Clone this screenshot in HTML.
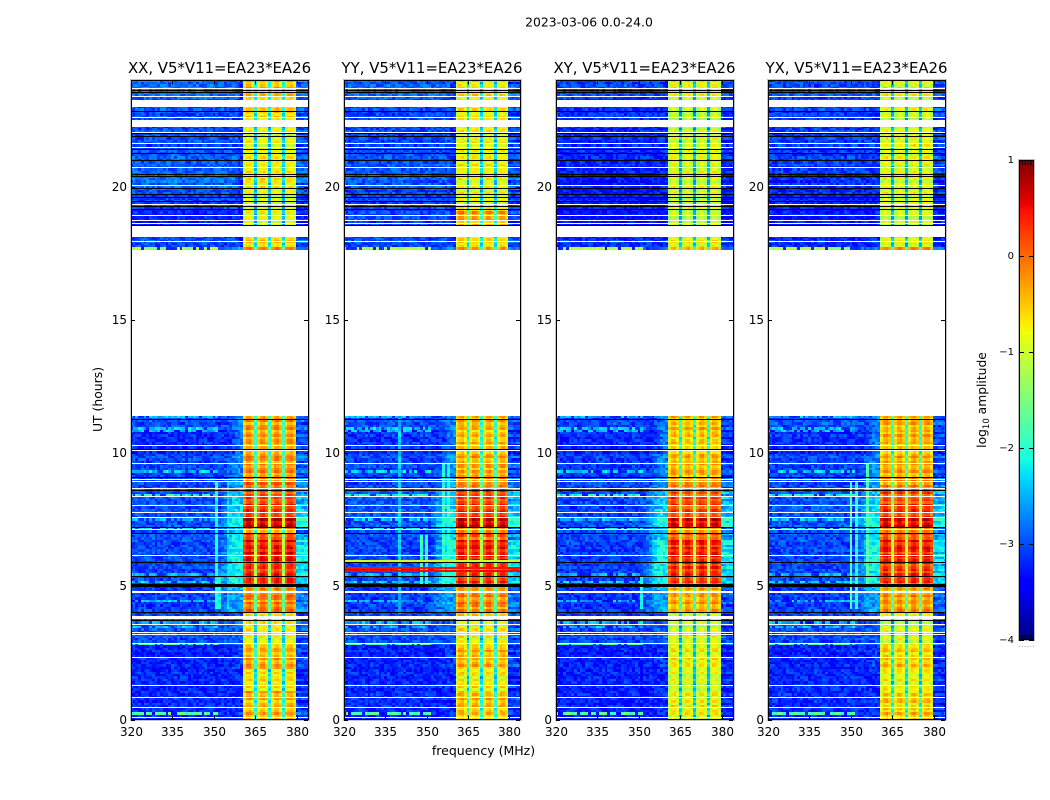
<!DOCTYPE html>
<html lang="en">
<head>
<meta charset="utf-8">
<title>2023-03-06 amplitude waterfall</title>
<style>
html,body{margin:0;padding:0;background:#fff;}
svg{display:block;}
text{font-family:"DejaVu Sans","Liberation Sans",sans-serif;fill:#000;}
</style>
</head>
<body>
<svg id="chart" xmlns="http://www.w3.org/2000/svg" width="1050" height="800" viewBox="0 0 1050 800">
<rect x="0" y="0" width="1050" height="800" fill="#fff"/>
<text x="589" y="26.5" font-size="12.4" text-anchor="middle">2023-03-06 0.0-24.0</text>
<text x="483.5" y="755" font-size="12.5" text-anchor="middle">frequency (MHz)</text>
<text x="0" y="0" font-size="12.4" text-anchor="middle" transform="translate(102,399.5) rotate(-90)">UT (hours)</text>
<text x="0" y="0" font-size="12.3" text-anchor="middle" transform="translate(986,400) rotate(-90)">log<tspan font-size="8.5" dy="3">10</tspan><tspan dy="-3"> amplitude</tspan></text>
<g id="panels"></g>
<g id="colorbar"></g>
</svg>
<script>
/* ---- chart data ---- */
const panelTitles = ["XX, V5*V11=EA23*EA26","YY, V5*V11=EA23*EA26","XY, V5*V11=EA23*EA26","YX, V5*V11=EA23*EA26"];
const xTickLabels = [320,335,350,365,380];
const yTickLabels = [0,5,10,15,20];
const colorbarTicks = [1,0,-1,-2,-3,-4];

const segmentStartUT = [0,1.1,1.85,2.8,3.75,4.05,4.85,5.05,5.87,6.73,7.0,7.2,7.6,8.1,8.6,9.05,10,10.85,17.7,18.56,19.2,19.9,20.5,21.3,22.3,23.3];
const bandXX = [-.4,-.65,-.35,-.8,-.5,-.05,-.3,.35,.5,.15,-.1,.7,.35,.2,-.05,-.2,-.3,-.2,-.6,-.85,-.9,-.7,-.8,-.8,-.55,-.45];
const bandYY = [-.45,-.7,-.4,-.8,-.5,-.15,-.3,.3,.45,.15,-.1,.65,.35,.2,-.1,-.3,-.45,-.4,-.65,-.35,-.8,-.85,-.8,-.8,-.75,-.7];
const bandXY = [-.75,-.9,-.7,-.9,-.65,-.3,-.4,.3,.45,.1,-.15,.6,.3,.15,-.15,-.35,-.5,-.45,-.8,-.95,-.95,-.95,-.9,-.9,-1,-.8];
const bandYX = [-.5,-.75,-.5,-.85,-.6,-.2,-.3,.3,.45,.15,-.1,.65,.35,.2,-.1,-.3,-.4,-.35,-.8,-.9,-.9,-.9,-.85,-.85,-.95,-.8];
const backgroundXX = [-3.2,-3.2,-3.25,-3,-3.05,-3.1,-3.2,-3.05,-3.05,-3,-3,-3,-3,-3,-3.05,-3.05,-3.2,-3,-3.05,-3.25,-3.05,-2.85,-2.95,-3,-3,-2.85];
const backgroundYY = [-3.2,-3.2,-3.25,-3,-3.05,-3.1,-3.2,-3.05,-3.05,-3,-3,-3,-2.95,-2.95,-3.05,-3.05,-3.15,-3,-3.05,-3.05,-3.05,-2.95,-3,-3.05,-3.05,-2.9];
const backgroundXY = [-3.25,-3.25,-3.25,-3.05,-3.1,-3.15,-3.2,-3.1,-3.1,-3.05,-3,-3.05,-3.05,-3.05,-3.05,-3.1,-3.2,-3.05,-3.2,-3.35,-3.3,-3.3,-3.25,-3.2,-3.15,-3.05];
const backgroundYX = [-3.2,-3.2,-3.25,-3,-3.05,-3.1,-3.2,-3.05,-3.05,-3,-3,-3,-2.95,-3,-3.05,-3.05,-3.2,-3,-3.2,-3.3,-3.25,-3.2,-3.1,-3.1,-3.1,-3];
const rampLevel = [-3.2,-3.2,-3.1,-2.9,-3,-2.6,-2.5,-2.2,-2.1,-2.3,-2.4,-2.1,-2.3,-2.4,-2.6,-2.7,-2.8,-2.7,-3.2,-3.2,-3.2,-3.2,-3.2,-3.2,-3.2,-3.2];
const rampStartMHz = [355,355,355,355,355,350,350,350,352,352,352,351,352,352,354,354,356,356,358,358,358,358,358,358,358,358];

/* level offset for the channels from 360.5 MHz up to the end of the 380 MHz band */
const bandChannelOffset = [-.3,.05,.08,-.2,-1.6,-.3,.03,.05,-.2,-1.6,-.3,.03,.05,-.2,-1.6,-.25,.03,.03,-.25];

const streakUT = [.2,2.83,3.47,3.66,4.48,10.8,10.9,9.28,8.38,7.5,7.17,5.42,5.16,17.7,11.38];
const streakLevel = [-1.9,-1.9,-2.6,-2.6,-2.6,-2.6,-2.5,-2.5,-2.2,-2.6,-2.2,-2.6,-2.5,-1.3,-2.6];
const yyLineUT = [5.73,5.61,5.98];
const yyLineLevel = [.45,.5,-1];

const spurPanel = [0,0,0,1,1,1,1,1,2,3,3,3];
const spurMHz = [351,352.5,355,340,348.5,350,356,358,351.5,350,352,356];
const spurFromUT = [4.1,4.1,4.1,4,5,5,5,5,4.1,4.1,4.1,5];
const spurToUT = [8.9,5.4,8.9,11.3,6.9,6.9,9.6,9.6,5.4,8.9,8.9,9.6];
const spurLevel = [-2.1,-2.1,-2.3,-2.4,-2,-2,-2,-2,-2.2,-1.7,-2,-1.8];

const blankStartUT = [11.39,18.14,22.27,23.0,4.75,3.77];
const blankEndUT = [17.65,18.52,22.5,23.28,4.82,3.88];
const whiteLineUT = [23.72,23.42,22.62,22.52,22.06,21.64,21.52,20.74,20.06,19.37,18.93,18.77,18.64,17.97,10.3,10.11,9.65,9.05,8.95,8.68,8.39,8.07,7.8,7.6,7.17,6.17,3.57,3.29,3.21,2.86,2.36,1.28,.83,.47,.08];
const blackLineUT = [23.65,23.56,22.85,22.02,21.9,21.43,21.27,21.02,20.47,20.4,19.97,19.72,19.62,19.47,19.27,19.18,18.56,11.28,10.17,9.11,8.61,7.23,7.01,5.9,5.38,4.05,3.75];
const blackBandStartUT = [4.97];
const blackBandEndUT = [5.1];

/* hand-typed speckle tables; a cosmetic texture, not per-cell readings */
const cellTexture = [.4,-.7,.1,.9,-.3,-.9,.6,.2,-.5,.8,-.1,-.6,.3,1,-.8,.5,-.2,.7,-.4,.1,-1,.6,.3,-.6,.9,-.2,.2,-.8,.5,-.4,.7,.1,-.9,.4,-.1,.8,-.5,.3,-.7,.6,0,-.3,1,-.6,.2,-.9,.5,.4,-.2,.7,-.7,.1,-.4];
const rowTexture = [.3,-.5,.8,-.2,-.7,.5,.1,-.9,.6,.2,-.3,.9,-.6,.4,-.1,-.8,.7,.2,-.4,.5,-1,.3,.6,-.2,-.6,.8,0,-.5,.4];

/* ---- layout ---- */
const panelLefts = [131,344,556,768];
const panelRights = [308,520,733,945];
const panelTop = 80.5;
const panelBottom = 719.5;
const freqMin = 320;
const freqMax = 384;
const utMax = 24;
const rowHours = 0.09;
const channelOrigin = 319.55;
const cbLeft = 1019;
const cbRight = 1034;
const cbTop = 160;
const cbBottom = 640;

const bandPerPanel = [bandXX,bandYY,bandXY,bandYX];
const backgroundPerPanel = [backgroundXX,backgroundYY,backgroundXY,backgroundYX];
const SVGNS = "http://www.w3.org/2000/svg";

function xScale(p, mhz){ return panelLefts[p] + (mhz - freqMin) / (freqMax - freqMin) * (panelRights[p] - panelLefts[p]); }
function yScale(h){ return panelBottom - h / utMax * (panelBottom - panelTop); }
function cbScale(v){ return cbBottom - (v + 4) / 5 * (cbBottom - cbTop); }

function interp(stops, t){
  for (let i = 1; i < stops.length; i++) {
    if (t <= stops[i][0]) {
      const a = stops[i-1], b = stops[i];
      return a[1] + (b[1] - a[1]) * (t - a[0]) / (b[0] - a[0]);
    }
  }
  return stops[stops.length-1][1];
}
const jetR = [[0,0],[.35,0],[.66,1],[.89,1],[1,.5]];
const jetG = [[0,0],[.125,0],[.375,1],[.64,1],[.91,0],[1,0]];
const jetB = [[0,.5],[.11,1],[.34,1],[.65,0],[1,0]];
function colorOf(v){
  const t = Math.max(0, Math.min(1, (v + 4) / 5));
  return "rgb(" + Math.round(255*interp(jetR,t)) + "," + Math.round(255*interp(jetG,t)) + "," + Math.round(255*interp(jetB,t)) + ")";
}
function segmentOf(h){
  let s = 0;
  for (let i = 0; i < segmentStartUT.length; i++) { if (segmentStartUT[i] <= h) s = i; }
  return s;
}
function isNoData(h){ return h > blankStartUT[0] && h < blankEndUT[0]; }

function cellLevel(p, r, i, h, seg){
  const mhz = channelOrigin + i + .5;
  const tex = cellTexture[(r*17 + i*23 + (r%7)*(i%11)*3 + p*11) % cellTexture.length];
  const rowT = rowTexture[(r + p*3) % rowTexture.length];
  const band = bandPerPanel[p][seg];
  const bg = backgroundPerPanel[p][seg];
  let v;
  if (i >= 41 && i <= 59) {
    v = band + bandChannelOffset[i-41] + tex*.12 + rowT*.28;
  } else if (i >= 60) {
    v = Math.max(bg, band - 2.7) + tex*.25 + rowT*.3;
  } else {
    const from = rampStartMHz[seg];
    let base = bg;
    if (mhz >= from) { base = bg + (rampLevel[seg] - bg) * Math.min(1, (mhz - from) / (360.5 - from) * 1.6); }
    v = base + tex*.28 + rowT*.08;
    for (let k = 0; k < spurMHz.length; k++) {
      if (spurPanel[k] === p && h >= spurFromUT[k] && h <= spurToUT[k] && Math.abs(mhz - spurMHz[k]) <= .5) { v = Math.max(v, spurLevel[k] + tex*.2); }
    }
    if (mhz < 352) {
      for (let k = 0; k < streakUT.length; k++) {
        if (Math.abs(h - streakUT[k]) <= rowHours/2 && tex > -.5) { v = Math.max(v, streakLevel[k] + tex*.4); }
      }
    }
  }
  return v;
}

function makeSvg(tag, attrs, parent){
  const el = document.createElementNS(SVGNS, tag);
  for (const k in attrs) { el.setAttribute(k, attrs[k]); }
  parent.appendChild(el);
  return el;
}

const panelsRoot = document.getElementById("panels");
for (let p = 0; p < 4; p++) {
  const g = makeSvg("g", {}, panelsRoot);
  
  
  const cells = makeSvg("g", {"shape-rendering":"crispEdges"}, g);
  
  
  const left = panelLefts[p], right = panelRights[p];
  const rowCount = Math.round(utMax / rowHours);
  for (let r = 0; r < rowCount; r++) {
    const h = (r + .5) * rowHours;
    if (isNoData(h)) continue;
    const seg = segmentOf(h);
    const y0 = Math.round(yScale((r+1) * rowHours));
    const y1 = Math.round(yScale(r * rowHours));
    if (y1 <= y0) continue;
    for (let i = 0; i < 65; i++) {
      const x0 = Math.max(left, Math.round(xScale(p, channelOrigin + i)));
      const x1 = Math.min(right, Math.round(xScale(p, channelOrigin + i + 1)));
      if (x1 <= x0) continue;
      const cell = makeSvg("rect", {x:x0, y:y0, width:x1-x0, height:y1-y0, fill:colorOf(cellLevel(p, r, i, h, seg))}, cells);
      
      
    }
  }
  const flags = makeSvg("g", {"shape-rendering":"crispEdges"}, g);
  
  
  if (p === 1) {
    for (let k = 0; k < yyLineUT.length; k++) {
      const el = makeSvg("rect", {x:left, y:Math.round(yScale(yyLineUT[k])), width:right-left, height:2, fill:colorOf(yyLineLevel[k])}, flags);
      
      
    }
  }
  for (let k = 0; k < blankStartUT.length; k++) {
    const top = Math.round(yScale(blankEndUT[k])), bot = Math.round(yScale(blankStartUT[k]));
    const el = makeSvg("rect", {x:left, y:top, width:right-left, height:bot-top, fill:"#fff"}, flags);
    
    
  }
  for (let k = 0; k < whiteLineUT.length; k++) {
    const el = makeSvg("rect", {x:left, y:Math.round(yScale(whiteLineUT[k])), width:right-left, height:1, fill:"#fff"}, flags);
    
    
  }
  for (let k = 0; k < blackLineUT.length; k++) {
    const el = makeSvg("rect", {x:left, y:Math.round(yScale(blackLineUT[k])), width:right-left, height:1, fill:"#000"}, flags);
    
    
  }
  for (let k = 0; k < blackBandStartUT.length; k++) {
    const top = Math.round(yScale(blackBandEndUT[k])), bot = Math.round(yScale(blackBandStartUT[k]));
    const el = makeSvg("rect", {x:left, y:top, width:right-left, height:bot-top, fill:"#000"}, flags);
    
    
  }
  const halo = makeSvg("rect", {x:left-.5, y:panelTop-1, width:right-left+2, height:panelBottom-panelTop+2, fill:"none", stroke:"#c4c4c4", "stroke-width":1, "shape-rendering":"crispEdges"}, g);
  
  
  const frame = makeSvg("rect", {x:left+.5, y:panelTop, width:right-left, height:panelBottom-panelTop, fill:"none", stroke:"#000", "stroke-width":1, "shape-rendering":"crispEdges"}, g);
  
  
  const title = makeSvg("text", {x:(left+right)/2, y:73, "font-size":14.9, "text-anchor":"middle"}, g);
  
  
  title.textContent = panelTitles[p];
  xTickLabels.forEach(function(t){
    const x = Math.round(xScale(p, t)) + .5;
    const tb = makeSvg("line", {x1:x, x2:x, y1:panelBottom, y2:panelBottom-4, stroke:"#000"}, g);
    
    
    const tt = makeSvg("line", {x1:x, x2:x, y1:panelTop, y2:panelTop+4, stroke:"#000"}, g);
    
    
    const lab = makeSvg("text", {x:x, y:736, "font-size":12, "text-anchor":"middle"}, g);
    
    
    lab.textContent = t;
  });
  yTickLabels.forEach(function(t){
    const y = Math.round(yScale(t)) + .5;
    const tl = makeSvg("line", {x1:left, x2:left+4, y1:y, y2:y, stroke:"#000"}, g);
    
    
    const tr = makeSvg("line", {x1:right, x2:right-4, y1:y, y2:y, stroke:"#000"}, g);
    
    
    const lab = makeSvg("text", {x:left-4, y:y+3.5, "font-size":12, "text-anchor":"end"}, g);
    
    
    lab.textContent = t;
  });
}

/* ---- colour bar ---- */
const cb = document.getElementById("colorbar");
const ramp = makeSvg("g", {"shape-rendering":"crispEdges"}, cb);


for (let y = cbTop; y < cbBottom; y += 2) {
  const v = -4 + (cbBottom - y - 1) / (cbBottom - cbTop) * 5;
  const seg = makeSvg("rect", {x:cbLeft, y:y, width:cbRight-cbLeft, height:2, fill:colorOf(v)}, ramp);
  
  
}
const cbOuter = makeSvg("rect", {x:cbLeft-.5, y:cbTop-.5, width:cbRight-cbLeft+1, height:cbBottom-cbTop+1, fill:"none", stroke:"#bbb", "stroke-width":1}, cb);


const cbFrame = makeSvg("rect", {x:cbLeft+.5, y:cbTop+.5, width:cbRight-cbLeft-1, height:cbBottom-cbTop-1, fill:"none", stroke:"#000", "stroke-width":1}, cb);


colorbarTicks.forEach(function(t){
  const y = Math.round(cbScale(t)) + .5;
  const a = makeSvg("line", {x1:cbLeft, x2:cbLeft+5, y1:y, y2:y, stroke:"#000"}, cb);
  
  
  const b = makeSvg("line", {x1:cbRight, x2:cbRight-5, y1:y, y2:y, stroke:"#000"}, cb);
  
  
  const lab = makeSvg("text", {x:1014, y:y+2.5, "font-size":10, "text-anchor":"end"}, cb);
  
  
  lab.textContent = t < 0 ? "\u2212" + Math.abs(t) : String(t);
});
for (let k = 0; k < 6; k++) {
  const x = cbLeft + .5 + k * (cbRight - cbLeft - 1) / 5;
  const a = makeSvg("line", {x1:x, x2:x, y1:cbTop, y2:cbTop+5, stroke:"#000"}, cb);
  
  
  const b = makeSvg("line", {x1:x, x2:x, y1:cbBottom, y2:cbBottom-5, stroke:"#000"}, cb);
  
  
  const d = makeSvg("rect", {x:x-.5, y:646, width:1, height:1, fill:"#aaa"}, cb);
  
  
}
</script>
</body>
</html>
